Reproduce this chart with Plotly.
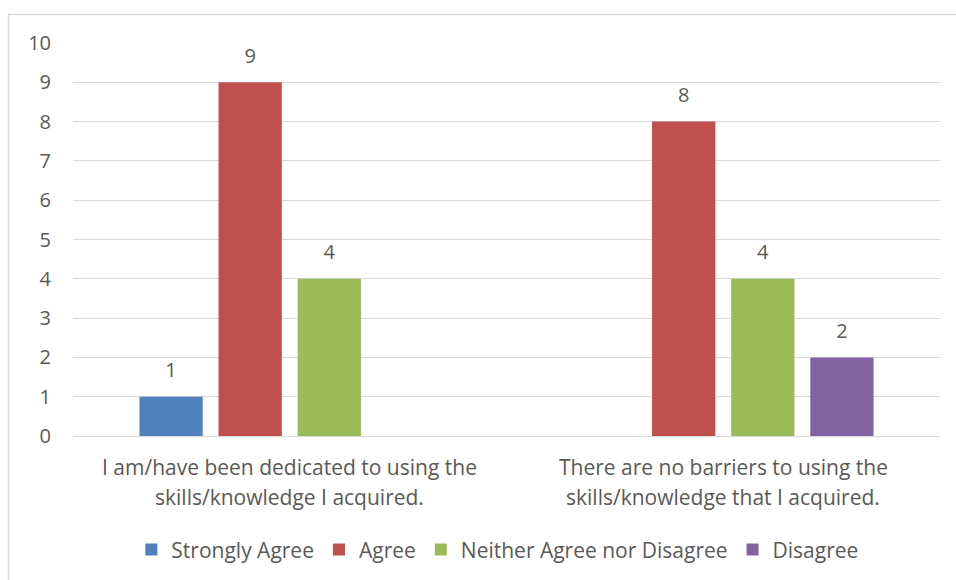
import plotly.graph_objects as go

categories = [
    "I am/have been dedicated to using the<br>skills/knowledge I acquired.",
    "There are no barriers to using the<br>skills/knowledge that I acquired.",
]
series_names = ["Strongly Agree", "Agree", "Neither Agree nor Disagree", "Disagree"]
series_values = [
    [1, None],
    [9, 8],
    [4, 4],
    [None, 2],
]
colors = ["#4F81BD", "#C0504D", "#9BBB59", "#8064A2"]
y_ticks = list(range(0, 11))

FONT = "Open Sans"
GRAY = "#595959"

fig = go.Figure()
for name, vals, col in zip(series_names, series_values, colors):
    fig.add_trace(go.Bar(
        name=name, x=categories, y=vals, marker_color=col,
        marker_line_width=0, hoverinfo="skip",
    ))
# value labels, grouped like the bars
for name, vals in zip(series_names, series_values):
    fig.add_trace(go.Scatter(
        x=categories, y=vals, mode="markers+text", showlegend=False,
        text=[("" if v is None else str(v)) for v in vals],
        textposition="top center", cliponaxis=False, hoverinfo="skip",
        marker=dict(size=22, opacity=0),
        textfont=dict(family=FONT, size=20, color=GRAY),
    ))

annotations = []
for cat in categories:
    lines = cat.split("<br>")
    for i, ln in enumerate(lines):
        annotations.append(dict(
            x=cat, xref="x", y=0, yref="y", text=ln, showarrow=False,
            yanchor="middle", yshift=-31 - 30 * i,
            font=dict(family=FONT, size=21, color=GRAY),
        ))

fig.update_layout(
    width=956, height=580,
    margin=dict(l=73, r=16, t=43, b=144, autoexpand=False),
    paper_bgcolor="white", plot_bgcolor="white",
    barmode="group", bargap=0.27, bargroupgap=0.2,
    scattermode="group", scattergap=0.27,
    font=dict(family=FONT, size=18, color=GRAY),
    annotations=annotations,
    legend=dict(orientation="h", x=0.49, xanchor="center", y=-0.29, yanchor="middle",
                font=dict(family=FONT, size=21, color=GRAY),
                traceorder="normal"),
    xaxis=dict(showticklabels=False, showline=False, ticks=""),
    yaxis=dict(range=[0, 10], tickvals=y_ticks, showgrid=True, gridcolor="#D9D9D9",
               gridwidth=1, zeroline=True, zerolinecolor="#D9D9D9", zerolinewidth=1,
               showline=False, ticks="", ticklabelstandoff=21,
               tickfont=dict(family=FONT, size=20, color=GRAY)),
    shapes=[dict(type="rect", xref="paper", yref="paper",
                 x0=(8.5 - 73) / 867, x1=1.1, y0=-0.5, y1=(436 - 14.5) / 393,
                 line=dict(color="#D9D9D9", width=1.5), fillcolor="rgba(0,0,0,0)",
                 layer="below")],
)

fig.write_html("out.html")
